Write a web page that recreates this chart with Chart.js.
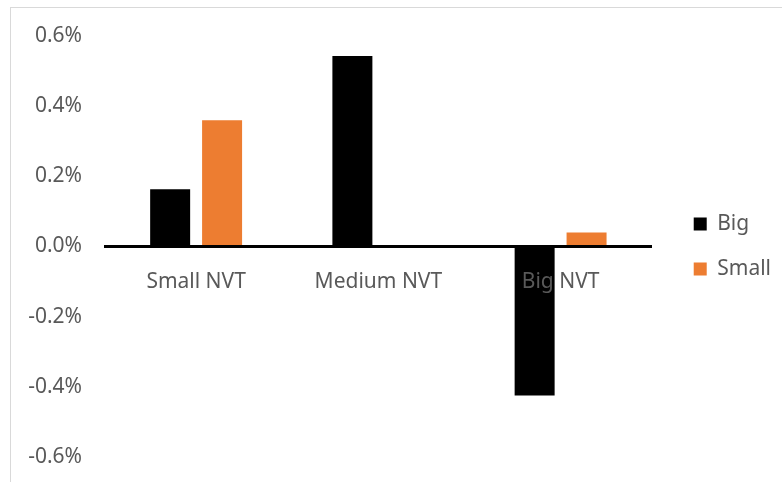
<!DOCTYPE html>
<html>
<head>
<meta charset="utf-8">
<script src="https://cdn.jsdelivr.net/npm/chart.js@4"></script>
<style>
  body { margin: 0; background: #fff; }
  #wrap {
    position: absolute; left: 10px; top: 7px;
    width: 771px; height: 474px;
    border-left: 1px solid #d9d9d9; border-top: 1px solid #d9d9d9;
  }
</style>
</head>
<body>
<div id="wrap"><canvas id="chart" width="771" height="474"></canvas></div>
<script>
const categories = ['Small NVT', 'Medium NVT', 'Big NVT'];
const bigValues = [0.163, 0.543, -0.425];
const smallValues = [0.36, 0, 0.04];
const yTicks = [-0.6, -0.4, -0.2, 0, 0.2, 0.4, 0.6];

const textColor = '#595959';
const labelFont = { family: 'Noto Sans', size: 21 };

// push the legend a bit away from the plot, like the original
const legendShift = {
    id: 'legendShift',
    afterLayout(chart) {
        chart.legend.left += 18;
        chart.legend.right += 18;
    },
};

const ctx = document.getElementById('chart').getContext('2d');
const chart = new Chart(ctx, {
    type: 'bar',
    data: {
        labels: categories,
        datasets: [{
            label: 'Big',
            data: bigValues,
            backgroundColor: '#000000',
        }, {
            label: 'Small',
            data: smallValues,
            backgroundColor: '#ed7d31',
        }],
    },
    plugins: [legendShift],
    options: {
        responsive: false,
        animation: false,
        font: labelFont,
        categoryPercentage: 0.57,
        barPercentage: 0.77,
        layout: { padding: { top: 28, bottom: 25, right: 19 } },
        plugins: {
            tooltip: { enabled: false },
            legend: {
                position: 'right',
                labels: {
                    color: textColor,
                    boxWidth: 13,
                    boxHeight: 13,
                    padding: 24,
                    font: labelFont,
                },
            },
        },
        scales: {
            x: {
                position: { y: 0 },
                grid: { display: false, drawTicks: false },
                border: { color: '#000000', width: 3, z: 1 },
                afterFit: (scale) => { scale.height = 0; },
                ticks: { color: textColor, padding: 23, font: labelFont, z: 1 },
            },
            y: {
                min: -0.6,
                max: 0.6,
                grid: { display: false, drawTicks: false },
                border: { display: false },
                afterBuildTicks: (scale) => { scale.ticks = yTicks.map(v => ({ value: v })); },
                afterFit: (scale) => {
                    scale.width = 94;
                    scale.paddingTop = 0;
                    scale.paddingBottom = 0;
                },
                ticks: {
                    color: textColor,
                    padding: 23,
                    font: labelFont,
                    callback: (v) => v.toFixed(1) + '%',
                },
            },
        },
    },
});
</script>
</body>
</html>
